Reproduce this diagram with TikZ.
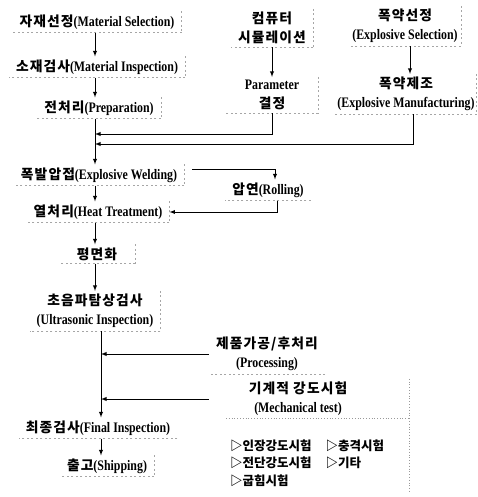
\documentclass[tikz,border=0pt]{standalone}
\usepackage{fontspec}
\setmainfont[FakeStretch=0.82]{Liberation Serif}
\newfontfamily\kr[UprightFont={* Bold},Scale=0.95,LetterSpace=8]{Noto Sans CJK KR}
\newfontfamily\krl[UprightFont={* Bold}]{Noto Sans CJK KR}

\tikzset{
  lbl/.style={font=\bfseries\fontsize{14.5}{19}\selectfont, inner xsep=7pt, inner ysep=3pt, align=center},
  edgeln/.style={draw=gray!70, line width=0.5pt, dash pattern=on 2pt off 2.5pt},
  dotln/.style={draw=gray!80, line width=0.6pt, dash pattern=on 0.8pt off 2pt},
  rim/.style={append after command={(\tikzlastnode.north east) edge[edgeln] (\tikzlastnode.south east)
      (\tikzlastnode.south east) edge[edgeln] (\tikzlastnode.south west)}},
  rimb/.style={append after command={(\tikzlastnode.south east) edge[edgeln] (\tikzlastnode.south west)}},
  flow/.style={line width=0.9pt, -latex},
}

\begin{document}
\begin{tikzpicture}[x=1pt,y=-1pt]
\useasboundingbox (0,0) rectangle (477,497);

\coordinate (tk) at (95,0);
\coordinate (tk2) at (101,0);
\coordinate (j1) at (95,134);
\coordinate (j2) at (95,144);

% main column
\node[lbl,rim] (sel) at (97,22) {{\kr 자재선정}(Material Selection)};
\node[lbl,rim] (insp) at (97,67) {{\kr 소재검사}(Material Inspection)};
\node[lbl,rim] (prep) at (99,108) {{\kr 전처리}(Preparation)};
\node[lbl,rim] (weld) at (99,175) {{\kr 폭발압접}(Explosive Welding)};
\node[lbl,rim] (heat) at (98,212) {{\kr 열처리}(Heat Treatment)};
\node[lbl,rim,minimum width=76pt] (flat) at (97,254) {\kr 평면화};
\node[lbl,rim] (ultra) at (95,311) {{\kr 초음파탐상검사}\\(Ultrasonic Inspection)};
\node[lbl,rimb] (final) at (98,428) {{\kr 최종검사}(Final Inspection)};
\node[lbl,rim] (ship) at (107,466) {{\kr 출고}(Shipping)};

% side column
\node[lbl,rim,minimum width=80pt] (sim) at (272,28) {{\kr 컴퓨터}\\{\kr 시뮬레이션}};
\node[lbl,rim,minimum width=92pt] (param) at (272,95) {Parameter\\{\kr 결정}};
\node[lbl,rim,inner xsep=3pt] (exsel) at (405,26) {{\kr 폭약선정}\\(Explosive Selection)};
\node[lbl,rim,inner xsep=2pt] (exman) at (406,94) {{\kr 폭약제조}\\(Explosive Manufacturing)};
\node[lbl,rimb] (roll) at (268,190) {{\kr 압연}(Rolling)};
\node[lbl,rimb] (proc) at (267,354) {{\kr 제품가공/후처리}\\(Processing)};
\node[lbl] (mech) at (298,399) {{\kr 기계적 강도시험}\\(Mechanical test)};
\node[lbl,anchor=north west,inner xsep=4pt,inner ysep=2pt,text width=175pt,align=left] (tests) at (226,436)
  {\krl\fontsize{12.5}{17.5}\selectfont
   \begin{tabular}{@{}l@{\hspace{14pt}}l@{}}
   ▷인장강도시험 & ▷충격시험\\
   ▷전단강도시험 & ▷기타\\
   ▷굽힘시험 &
   \end{tabular}};

% dotted frame of the test box
\draw[dotln] ([yshift=18pt]tests.north west) -- ([yshift=18pt]tests.north east);
\draw[dotln] (tests.north east |- mech.north) -- (tests.south east);

% connectors
\draw[flow] (sel.south -| tk) -- (insp.north -| tk);
\draw[flow] (insp.south -| tk) -- (prep.north -| tk);
\draw[line width=0.9pt] (prep.south -| tk) -- (j2);
\draw[flow] (j2) -- (weld.north -| tk);
\draw[flow] (sim.south) -- (param.north);
\draw[flow] (exsel.south -| 410,0) -- (exman.north -| 410,0);
\draw[flow] (param.south) |- (j1);
\draw[flow] ([xshift=7pt]exman.south) |- (j2);
\draw[flow] ([xshift=8pt,yshift=6pt]weld.east) -| ([xshift=7pt]roll.north);
\draw[flow] ([xshift=9pt]roll.south) |- (heat.east);
\draw[flow] (weld.south -| tk) -- (heat.north -| tk);
\draw[flow] (heat.south -| tk) -- (flat.north -| tk);
\draw[flow] (flat.south -| tk) -- (ultra.north -| tk);
\draw[flow] (ultra.south -| tk2) -- (final.north -| tk2);
\draw[flow] (proc.west) -- (proc.west -| tk2);
\draw[flow] (mech.west -| proc.west) -- (mech.west -| tk2);
\draw[flow] (final.south -| tk2) -- (ship.north -| tk2);
\end{tikzpicture}
\end{document}
